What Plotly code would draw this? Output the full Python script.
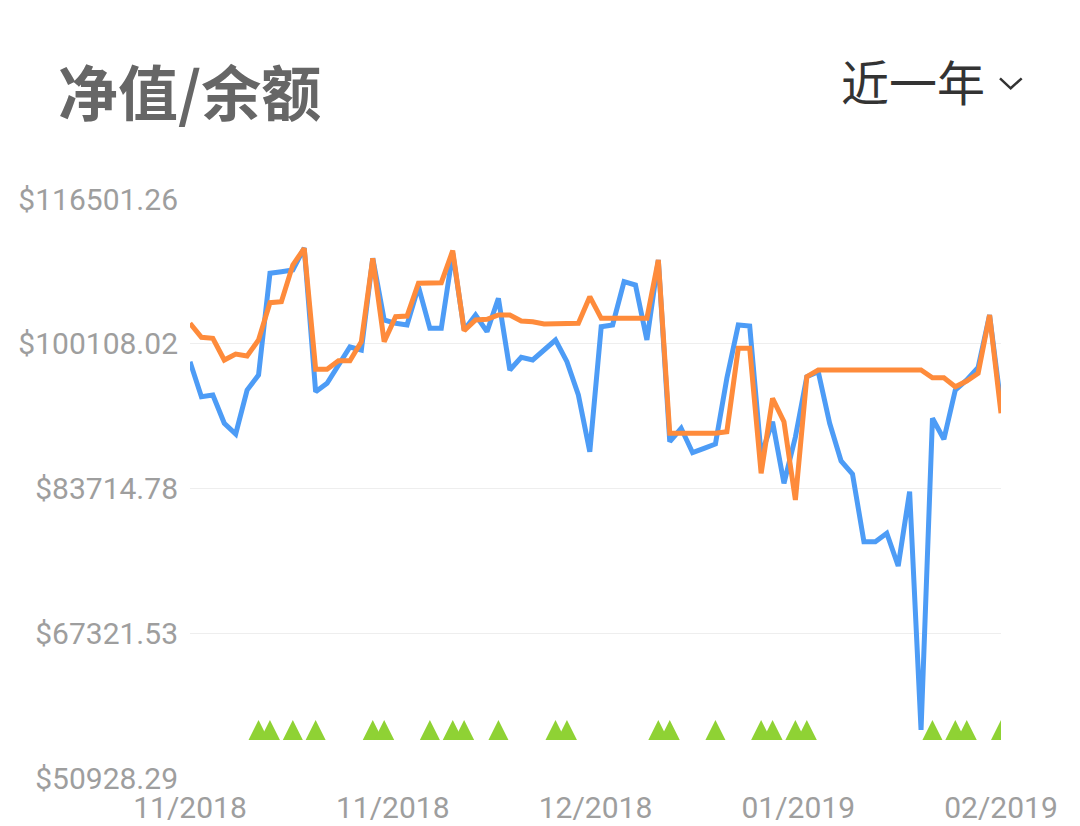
import plotly.graph_objects as go

# ---- data ----
x_tick_labels = ["11/2018", "11/2018", "12/2018", "01/2019", "02/2019"]
y_tick_values = [50928.29, 67321.53, 83714.78, 100108.02, 116501.26]

net_value = [
    98075, 94112, 94304, 91099, 89887, 94870, 96569, 108087, 108268, 108460,
    110952, 94678, 95629, 97815, 99740, 99400, 109785, 102798, 102424, 102231,
    106569, 101858, 101858, 110385, 101665, 103364, 101473, 105255, 97135, 98574,
    98268, 99400, 100533, 98075, 94304, 87883, 102039, 102231, 107135, 106761,
    100533, 109593, 89015, 90533, 87769, 88268, 88755, 96195, 102231, 102118,
    87509, 91280, 84304, 89547, 96376, 96943, 91099, 86829, 85357, 77690,
    77690, 78642, 74938, 83353, 56365, 91665, 89287, 94870, 96003, 97441,
    103364, 93171,
]

balance = [
    102424, 100839, 100725, 98268, 98947, 98721, 100533, 104757, 104870, 109026,
    110918, 97215, 97215, 98189, 98189, 100340, 109785, 100340, 103171, 103251,
    106954, 107022, 107022, 110646, 101586, 102798, 102877, 103364, 103364, 102684,
    102605, 102345, 102345, 102424, 102424, 105436, 102990, 102990, 102990, 102990,
    102990, 109593, 89967, 89967, 89967, 89967, 89967, 90148, 99593, 99593,
    85437, 93930, 91280, 82413, 96376, 97135, 97135, 97135, 97135, 97135,
    97135, 97135, 97135, 97135, 97135, 96263, 96263, 95244, 95889, 96762,
    103364, 92231,
]

trade_points = [6, 7, 9, 11, 16, 17, 21, 23, 24, 27, 32, 33, 41, 42, 46,
                50, 51, 53, 54, 65, 67, 68, 71]
trade_marker_value = 57500

# ---- layout geometry (page body margin removed, so pixels map 1:1) ----
W, H = 1080, 826
L, R, T, B = 190, 1001, 199, 778


def px(xp, yp):
    return (xp - L) / (R - L), (B - yp) / (B - T)


idx = list(range(len(net_value)))
n = len(net_value) - 1

fig = go.Figure()
fig.add_trace(go.Scatter(
    x=idx, y=net_value, mode="lines",
    line=dict(color="#4d9cf6", width=5), hoverinfo="skip", showlegend=False,
))
fig.add_trace(go.Scatter(
    x=idx, y=balance, mode="lines",
    line=dict(color="#fe8b3b", width=5), hoverinfo="skip", showlegend=False,
))
fig.add_trace(go.Scatter(
    x=trade_points, y=[trade_marker_value] * len(trade_points), mode="markers",
    marker=dict(symbol="arrow-up", size=20, color="#8fd234", line=dict(width=0)),
    hoverinfo="skip", showlegend=False,
))

tick_font = dict(family="Roboto", size=30, color="#9e9e9e")

fig.update_xaxes(
    range=[0, n], showgrid=False, zeroline=False, showline=False, ticks="",
    tickmode="array", tickvals=[n * k / 4 for k in range(5)],
    ticktext=x_tick_labels, tickfont=tick_font, ticklabelstandoff=9,
    automargin=False,
)
fig.update_yaxes(
    range=[y_tick_values[0], y_tick_values[-1]], showgrid=True,
    gridcolor="#eeeeee", gridwidth=1, zeroline=False, showline=False, ticks="",
    tickmode="array", tickvals=y_tick_values,
    ticktext=["$%.2f" % v for v in y_tick_values], tickfont=tick_font,
    ticklabelstandoff=11, automargin=False,
)

tx, ty = px(56, 89)
sx, sy = px(839, 80)
c1 = px(1000, 78.3)
c2 = px(1010.7, 88.3)
c3 = px(1021.7, 78.3)

fig.update_layout(
    width=W, height=H,
    margin=dict(l=L, r=W - R, t=T, b=H - B, autoexpand=False),
    paper_bgcolor="white", plot_bgcolor="white",
    annotations=[
        dict(text="<b>净值/余额</b>", xref="paper", yref="paper", x=tx, y=ty,
             xanchor="left", yanchor="middle", showarrow=False,
             font=dict(family="Noto Sans CJK SC", size=60, color="#666666")),
        dict(text="近一年", xref="paper", yref="paper", x=sx, y=sy,
             xanchor="left", yanchor="middle", showarrow=False,
             font=dict(family="Noto Sans CJK SC", size=48, color="#333333")),
    ],
    shapes=[
        dict(type="path", xref="paper", yref="paper",
             path="M%f,%f L%f,%f L%f,%f" % (c1[0], c1[1], c2[0], c2[1], c3[0], c3[1]),
             line=dict(color="#333333", width=2.5)),
    ],
)

fig.write_html(
    "out.html",
    config={"displayModeBar": False},
    post_script="document.body.style.margin='0';document.body.style.overflow='hidden';",
)
